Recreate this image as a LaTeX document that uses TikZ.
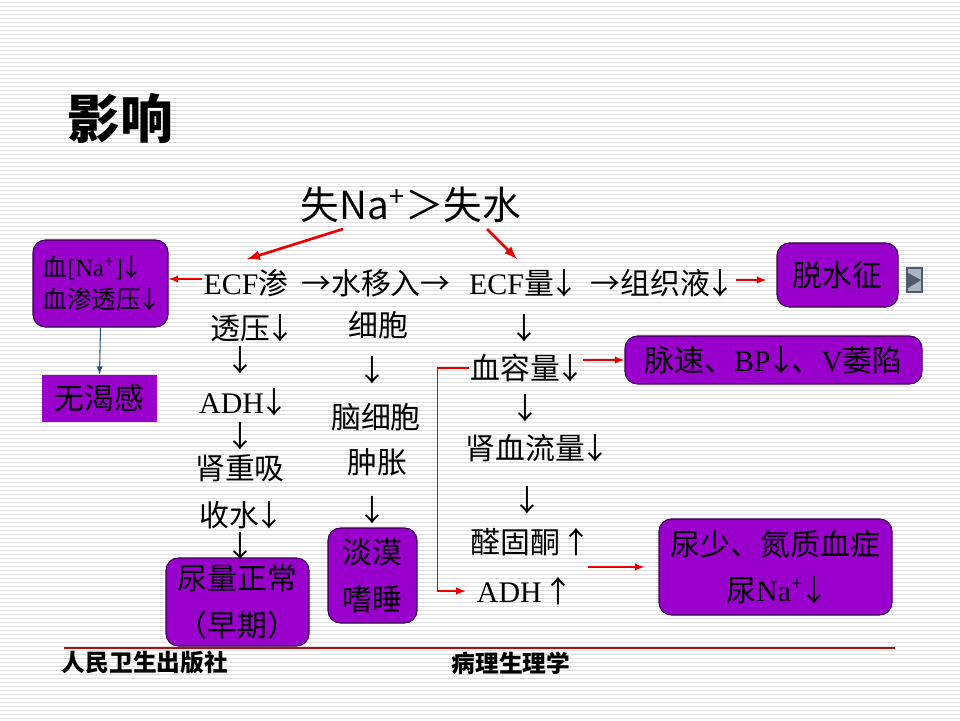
\documentclass[tikz,border=0pt]{standalone}
\usepackage{fontspec}
\setmainfont{Liberation Serif}
\newfontfamily\zhfont{Noto Sans CJK SC}
\newcommand{\zh}[1]{{\zhfont #1}}
\newcommand{\dn}{\makebox[0.7em]{\zhfont ↓}}
\newcommand{\up}{\makebox[0.6em]{\zhfont ↑}}
\newcommand{\rt}{{\zhfont →}}
\usepackage{tikz}
\usetikzlibrary{arrows,positioning}
\definecolor{boxpurple}{RGB}{153,0,204}
\definecolor{boxline}{RGB}{55,0,75}
\definecolor{linkred}{RGB}{235,0,0}
\definecolor{stripegray}{RGB}{222,222,222}
\definecolor{footred}{RGB}{165,20,20}
\definecolor{linkblue}{RGB}{40,80,125}
\definecolor{icongray}{RGB}{168,180,196}
\definecolor{icondark}{RGB}{80,90,105}
\newcommand{\px}{0.02cm}
\tikzset{
  txt/.style={inner sep=1pt, font=\fontsize{17}{24}\selectfont},
  effect/.style={draw=boxline, fill=boxpurple, line width=0.6pt, rounded corners=7pt,
    inner sep=0pt, align=center, font=\fontsize{17}{26.5}\selectfont},
  redlink/.style={->, >=latex, draw=linkred, line width=0.9pt},
  bigredlink/.style={->, >=latex, draw=linkred, line width=1.5pt},
}

\begin{document}
\begin{tikzpicture}[x=\px,y=-\px]
    \useasboundingbox (0,0) rectangle (960,720);
    \fill[white] (0,0) rectangle (960,720);
    \foreach \y in {2,6,...,718} {
      \draw[stripegray, line width=0.5pt] (0,\y) -- (960,\y);
    }
    % heading and cause
    \node (heading) at (120,118) {\zhfont\bfseries\fontsize{30}{34}\selectfont 影响};
    \node (cause) at (411,205) {\zhfont\fontsize{22}{26}\selectfont 失Na\textsuperscript{+}＞失水};
    % left column
    \node[txt] (ecf) at (246,283) {ECF\zh{渗}};
    \node[txt] (ecfp) at (251,328) {\zh{透压}\dn};
    \node[txt] (d1) at (240,360) {\dn};
    \node[txt] (adhdown) at (242,402) {ADH\dn};
    \node[txt] (d2) at (240,436) {\dn};
    \node[txt] (renal) at (240,468) {\zh{肾重吸}};
    \node[txt] (reabs) at (240,515) {\zh{收水}\dn};
    \node[txt] (d3) at (240,546) {\dn};
    % middle column
    \node[txt] (water) at (376,283) {\rt\zh{水移入}\rt};
    \node[txt] (cell) at (378,325) {\zh{细胞}};
    \node[txt] (d4) at (372,370) {\dn};
    \node[txt] (brain) at (376,417) {\zh{脑细胞}};
    \node[txt] (swell) at (377,462) {\zh{肿胀}};
    \node[txt] (d5) at (372,510) {\dn};
    % right column
    \node[txt] (ecfvol) at (522,283) {ECF\zh{量}\dn};
    \node[txt] (tissue) at (661,283) {\rt\zh{组织液}\dn};
    \node[txt] (d6) at (524,328) {\dn};
    \node[txt] (bloodvol) at (526,368) {\zh{血容量}\dn};
    \node[txt] (d7) at (525,408) {\dn};
    \node[txt] (renalflow) at (536,448) {\zh{肾血流量}\dn};
    \node[txt] (d8) at (527,500) {\dn};
    \node[txt] (aldo) at (528,542) {\zh{醛固酮} \up};
    \node[txt] (adhup) at (522,591) {ADH \up};
    % effect boxes
    \node[effect, minimum width=135*\px, minimum height=87*\px, align=left,
      font=\fontsize{14}{18}\selectfont] (nabox) at (100.5,283.5)
      {\zh{血}[Na\textsuperscript{+}]\dn\\\zh{血渗透压}\dn};
    \node[effect, draw=none, rounded corners=0pt, minimum width=115*\px,
      minimum height=47*\px] (thirst) at (99.5,398.5) {\zh{无渴感}};
    \node[effect, minimum width=143*\px, minimum height=88*\px] (urine) at (237.5,602)
      {\zh{尿量正常}\\\zh{（早期）}};
    \node[effect, minimum width=89*\px, minimum height=95*\px] (apathy) at (372.5,575.5)
      {\zh{淡漠}\\\zh{嗜睡}};
    \node[effect, minimum width=121*\px, minimum height=64*\px] (dehyd) at (837.5,275)
      {\zh{脱水征}};
    \node[effect, minimum width=297*\px, minimum height=48*\px] (pulse) at (773.5,360)
      {\zh{脉速、}BP\dn\zh{、}V\zh{萎陷}};
    \node[effect, minimum width=233*\px, minimum height=96*\px] (oliguria) at (775.5,567)
      {\zh{尿少、氮质血症}\\\zh{尿}Na\textsuperscript{+}\dn};
    % small play icon
    \node[draw=icondark, fill=icongray, line width=0.6pt, minimum width=15*\px,
      minimum height=24*\px, inner sep=0pt] (icon) at (914.5,280) {};
    \fill[icondark] (908,273) -- (921,280) -- (908,288) -- cycle;
    % connectors
    \draw[bigredlink] ([xshift=-68*\px]cause.south) -- ([xshift=1*\px,yshift=8*\px]ecf.north);
    \draw[bigredlink] ([xshift=76*\px]cause.south) -- ([xshift=-5*\px,yshift=8*\px]ecfvol.north);
    \draw[redlink] ([yshift=4*\px]ecf.west) -- ([yshift=4*\px]ecf.west -| nabox.east);
    \draw[redlink, shorten <=3*\px, shorten >=10*\px] ([yshift=3*\px]tissue.east) -- ([yshift=3*\px]tissue.east -| dehyd.west);
    \draw[redlink] (bloodvol.east |- pulse.west) -- (pulse.west);
    \draw[redlink, shorten >=9*\px] (bloodvol.west) -- ++(-31,0) |- (adhup.west);
    \draw[redlink, shorten >=14*\px] (aldo.east |- oliguria.west) -- (oliguria.west);
    \draw[->, >=latex, draw=linkblue, line width=0.6pt] (nabox.south) -- (thirst.north);
    % footer
    \draw[footred, line width=0.7pt] (64,648) -- (895,648);
    \node (press) at (145,663) {\zhfont\bfseries\fontsize{13.5}{16}\selectfont 人民卫生出版社};
    \node (course) at (511,663) {\zhfont\bfseries\fontsize{13.5}{16}\selectfont 病理生理学};
\end{tikzpicture}
\end{document}
